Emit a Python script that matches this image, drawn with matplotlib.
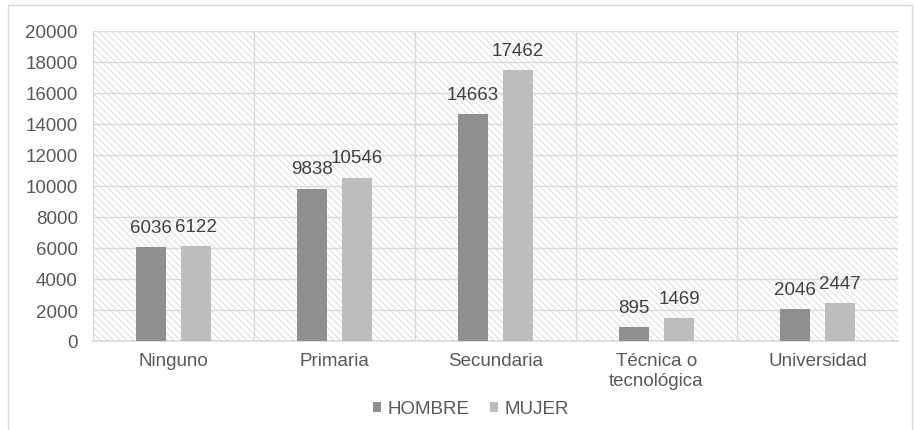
import numpy as np
import matplotlib.pyplot as plt
from matplotlib.patches import Rectangle

plt.rcParams['font.family'] = ['Liberation Sans', 'DejaVu Sans']
plt.rcParams['hatch.linewidth'] = 0.6

# datos por nivel educativo
categorias = ['Ninguno', 'Primaria', 'Secundaria', 'Técnica o\ntecnológica', 'Universidad']
hombre = [6036, 9838, 14663, 895, 2046]
mujer = [6122, 10546, 17462, 1469, 2447]
series = ['HOMBRE', 'MUJER']

gris_txt = '#595959'
c_h = '#8f8f8f'
c_m = '#bdbdbd'
fs = 13.5

fig = plt.figure(figsize=(9.15, 4.31), dpi=100)
ax = fig.add_axes([93/915, 1-342/431, 805/915, 310/431])

# marco exterior del grafico
fig.patches.append(Rectangle((8/915, -0.01), 904/915, 1-6/431+0.01, transform=fig.transFigure,
                             fill=False, edgecolor='#d9d9d9', linewidth=1))

x = np.arange(len(categorias))
w = 0.19
off = 0.14

# fondo rayado
ax.add_patch(Rectangle((-0.5, 0), 5, 20000, facecolor='white', edgecolor='#d6d6d6',
                       linewidth=0, hatch='\\\\\\\\\\', zorder=0))

b1 = ax.bar(x - off, hombre, w, color=c_h, label=series[0], zorder=3)
b2 = ax.bar(x + off, mujer, w, color=c_m, label=series[1], zorder=3)

for bars, vals in ((b1, hombre), (b2, mujer)):
    for b, v in zip(bars, vals):
        ax.annotate(str(v), (b.get_x() + b.get_width()/2, v), xytext=(0, 8),
                    textcoords='offset points', ha='center', va='bottom',
                    fontsize=fs, color='#404040', zorder=4)

ax.set_xlim(-0.5, 4.5)
ax.set_ylim(0, 20000)
ax.set_yticks(np.arange(0, 20001, 2000))
ax.set_xticks(x)
ax.set_xticklabels(categorias)
ax.set_xticks(np.arange(-0.5, 5, 1), minor=True)

ax.grid(axis='y', color='#d9d9d9', linewidth=1, zorder=1)
ax.grid(axis='x', which='minor', color='#d9d9d9', linewidth=1, zorder=1)
ax.grid(axis='x', which='major', visible=False)
ax.set_axisbelow(True)

for s in ['left', 'right', 'top']:
    ax.spines[s].set_visible(False)
ax.spines['bottom'].set_color('#d9d9d9')
ax.spines['bottom'].set_linewidth(1.2)

ax.tick_params(axis='both', which='both', length=0, labelsize=fs, labelcolor=gris_txt)
ax.tick_params(axis='y', pad=11)
ax.tick_params(axis='x', pad=8)

leg = fig.legend(loc='center', bbox_to_anchor=(471/915, 1-410/431), ncol=2, frameon=False,
                 fontsize=fs, handlelength=0.45, handleheight=0.45, handletextpad=0.35,
                 columnspacing=1.05)
for t in leg.get_texts():
    t.set_color(gris_txt)

fig.savefig('out.png', dpi=100)
